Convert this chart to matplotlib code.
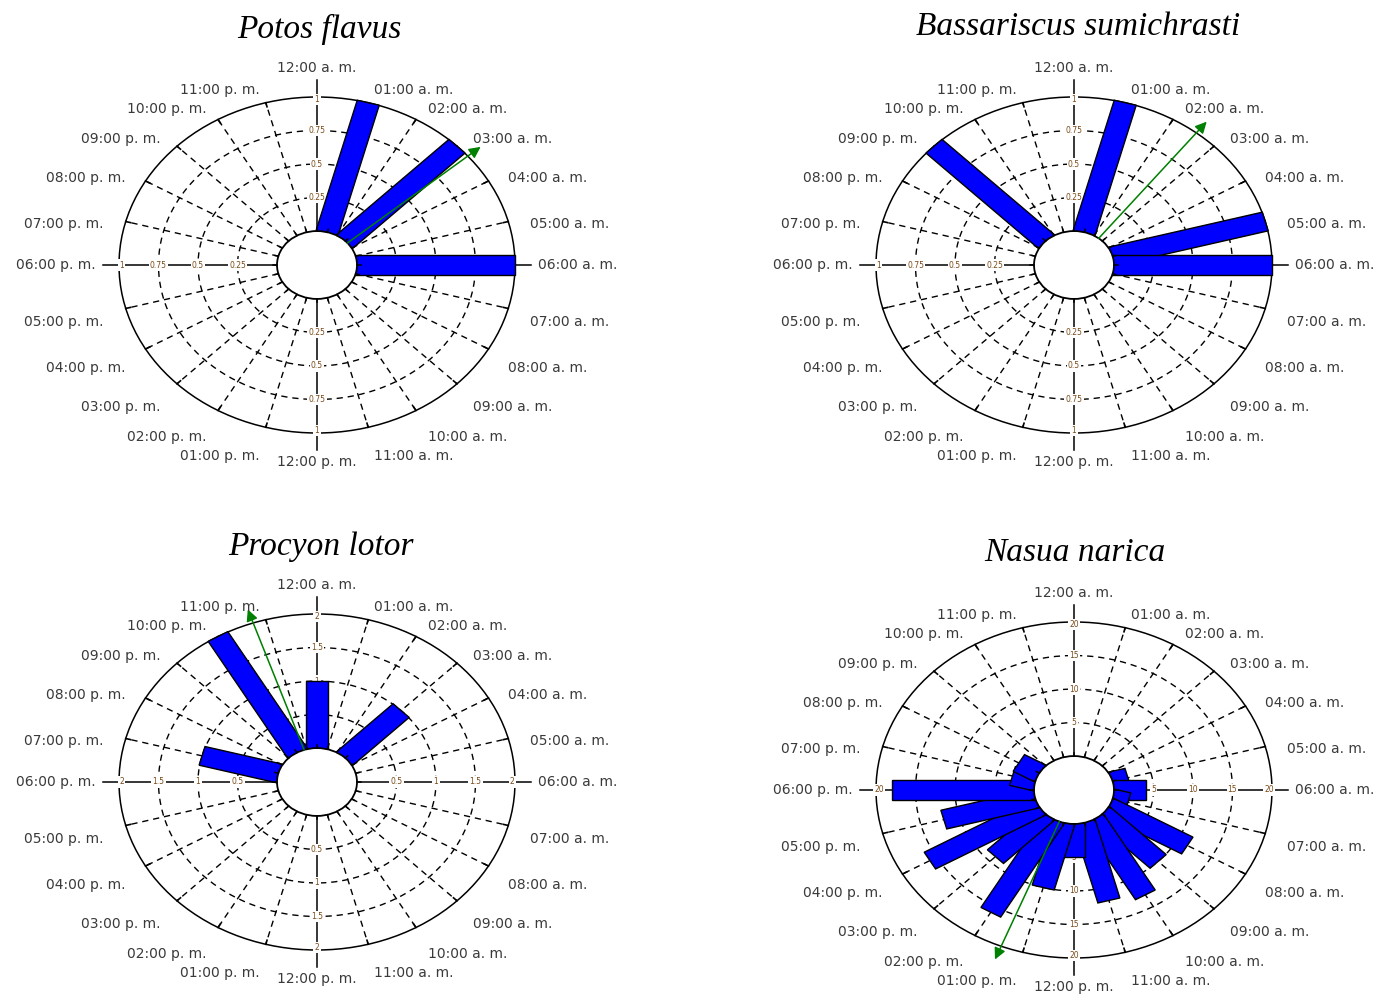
import numpy as np
import matplotlib
matplotlib.use("Agg")
import matplotlib.pyplot as plt
from matplotlib.patches import Polygon, Ellipse

# ---------------------------------------------------------------- data
species = ["Potos flavus", "Bassariscus sumichrasti", "Procyon lotor", "Nasua narica"]

hour_labels = [
    "12:00 a. m.", "01:00 a. m.", "02:00 a. m.", "03:00 a. m.", "04:00 a. m.", "05:00 a. m.",
    "06:00 a. m.", "07:00 a. m.", "08:00 a. m.", "09:00 a. m.", "10:00 a. m.", "11:00 a. m.",
    "12:00 p. m.", "01:00 p. m.", "02:00 p. m.", "03:00 p. m.", "04:00 p. m.", "05:00 p. m.",
    "06:00 p. m.", "07:00 p. m.", "08:00 p. m.", "09:00 p. m.", "10:00 p. m.", "11:00 p. m.",
]

# records per hour of the day (00 h ... 23 h)
potos_counts = [0, 1, 0, 1, 0, 0, 1, 0, 0, 0, 0, 0,
                0, 0, 0, 0, 0, 0, 0, 0, 0, 0, 0, 0]
bassariscus_counts = [0, 1, 0, 0, 0, 1, 1, 0, 0, 0, 0, 0,
                      0, 0, 0, 0, 0, 0, 0, 0, 0, 1, 0, 0]
procyon_counts = [1, 0, 0, 1, 0, 0, 0, 0, 0, 0, 0, 0,
                  0, 0, 0, 0, 0, 0, 0, 1, 0, 0, 2, 0]
nasua_counts = [0, 0, 0, 0, 0, 2, 4, 2, 11.5, 10, 13, 12,
                5, 10, 16, 9, 16, 12, 18, 3, 3, 0, 0, 0]

# radial scale: ring values and their labels
potos_rings = [0.25, 0.5, 0.75, 1]
bassariscus_rings = [0.25, 0.5, 0.75, 1]
procyon_rings = [0.5, 1, 1.5, 2]
nasua_rings = [5, 10, 15, 20]

potos_ring_labels = ["0.25", "0.5", "0.75", "1"]
bassariscus_ring_labels = ["0.25", "0.5", "0.75", "1"]
procyon_ring_labels = ["0.5", "1", "1.5", "2"]
nasua_ring_labels = ["5", "10", "15", "20"]

panels = [
    (species[0], potos_counts, potos_rings, potos_ring_labels),
    (species[1], bassariscus_counts, bassariscus_rings, bassariscus_ring_labels),
    (species[2], procyon_counts, procyon_rings, procyon_ring_labels),
    (species[3], nasua_counts, nasua_rings, nasua_ring_labels),
]

# ---------------------------------------------------------------- layout
FIG_W, FIG_H = 1383, 998
RX, RY = 198.0, 168.0          # outer ellipse half axes (px)
HOLE = 40.0 / RX               # empty centre, as fraction of outer radius
BAR_W = 0.115                  # bar width (fraction of outer radius)
HW, HH = 300, 262              # half size of each panel box (px)

centers = [(317, 265), (1074, 265), (317, 782), (1074, 790)]
title_pos = [(319, 29), (1078, 27), (321, 547), (1075, 553)]

LBL_COLOR = "#3a3a3a"
RING_COLOR = "#7a4a18"
BAR_COLOR = "#0000ff"
ARROW_COLOR = "#008000"
DASH = (0, (4.5, 3.5))

fig = plt.figure(figsize=(FIG_W / 100, FIG_H / 100), dpi=100)
fig.patch.set_facecolor("white")


def polar_xy(theta_deg, r):
    t = np.deg2rad(theta_deg)
    return r * np.sin(t), r * np.cos(t)


def draw_panel(cx, cy, tpos, name, counts, rings, ring_labels):
    ax = fig.add_axes([(cx - HW) / FIG_W, 1 - (cy + HH) / FIG_H,
                       2 * HW / FIG_W, 2 * HH / FIG_H])
    ax.set_xlim(-HW / RX, HW / RX)
    ax.set_ylim(-HH / RY, HH / RY)
    ax.axis("off")
    ax.patch.set_visible(False)

    vmax = rings[-1]

    def rad(v):
        return HOLE + (1 - HOLE) * v / vmax

    # dashed rings
    phi = np.linspace(0, 2 * np.pi, 400)
    for v in rings[:-1]:
        r = rad(v)
        ax.plot(r * np.cos(phi), r * np.sin(phi), color="black", lw=1.0,
                ls=DASH, zorder=1)

    # dashed hour spokes
    for h in range(24):
        th = h * 15
        if th % 90 == 0:
            continue
        x0, y0 = polar_xy(th, HOLE)
        x1, y1 = polar_xy(th, 1.0)
        ax.plot([x0, x1], [y0, y1], color="black", lw=1.0, ls=DASH, zorder=1)
        # small tick on the outer ellipse
        x2, y2 = polar_xy(th, 0.975)
        ax.plot([x2, x1], [y2, y1], color="black", lw=1.2, zorder=2)

    # outer ellipse
    ax.add_patch(Ellipse((0, 0), 2, 2, fill=False, ec="black", lw=1.1, zorder=2))

    # main axes (solid cross)
    ax.plot([-1.08, 1.08], [0, 0], color="black", lw=1.1, zorder=1.5)
    ax.plot([0, 0], [-1.1, 1.1], color="black", lw=1.1, zorder=1.5)

    # ring labels on the four axes
    for v, lab in zip(rings, ring_labels):
        r = rad(v) if v != vmax else 0.985
        for th in (0, 90, 180, 270):
            x, y = polar_xy(th, r)
            ax.text(x, y, lab, fontsize=5.5, color=RING_COLOR, ha="center",
                    va="center", zorder=3,
                    bbox=dict(boxstyle="square,pad=0.15", fc="white", ec="none"))

    # bars (rectangles along each hour direction)
    for h, v in enumerate(counts):
        if v <= 0:
            continue
        th = np.deg2rad(h * 15)
        u = np.array([np.sin(th), np.cos(th)])
        p = np.array([np.cos(th), -np.sin(th)])
        top = rad(v)
        pts = [-BAR_W / 2 * p, BAR_W / 2 * p,
               top * u + BAR_W / 2 * p, top * u - BAR_W / 2 * p]
        ax.add_patch(Polygon(pts, closed=True, fc=BAR_COLOR, ec="black",
                             lw=1.0, zorder=4))

    # empty centre with hour ticks
    ax.add_patch(Ellipse((0, 0), 2 * HOLE, 2 * HOLE, fc="white", ec="black",
                         lw=1.3, zorder=5))
    for h in range(24):
        x0, y0 = polar_xy(h * 15, HOLE)
        x1, y1 = polar_xy(h * 15, HOLE + 0.018)
        ax.plot([x0, x1], [y0, y1], color="black", lw=1.1, zorder=5)

    # mean direction (circular mean of the hourly counts)
    ang = np.deg2rad(np.arange(24) * 15)
    c = np.asarray(counts, dtype=float)
    mean_th = np.rad2deg(np.arctan2((c * np.sin(ang)).sum(), (c * np.cos(ang)).sum()))
    xs, ys = polar_xy(mean_th, HOLE)
    xt, yt = polar_xy(mean_th, 1.085)
    ax.annotate("", xy=(xt, yt), xytext=(xs, ys), zorder=6,
                arrowprops=dict(arrowstyle="-|>", color=ARROW_COLOR, lw=1.1,
                                mutation_scale=17, shrinkA=0, shrinkB=0))

    # hour labels around the dial
    for h, lab in enumerate(hour_labels):
        th = h * 15
        s, co = np.sin(np.deg2rad(th)), np.cos(np.deg2rad(th))
        xp = 221 * s
        if th == 0:
            yd = -197
        elif th == 180:
            yd = 197
        elif th in (90, 270):
            yd = 0
        else:
            yd = -189.5 * co + 8
        ha = "center" if abs(s) < 1e-6 else ("left" if s > 0 else "right")
        ax.text(xp / RX, -yd / RY, lab, fontsize=10, color=LBL_COLOR,
                ha=ha, va="center", zorder=7, clip_on=False)

    # species name
    ax.text((tpos[0] - cx) / RX, (cy - tpos[1]) / RY, name,
            fontsize=24, family="Liberation Serif", style="italic",
            color="black", ha="center", va="center", clip_on=False)


for (cx, cy), tpos, (name, counts, rings, rlabs) in zip(centers, title_pos, panels):
    draw_panel(cx, cy, tpos, name, counts, rings, rlabs)

fig.savefig("out.png", dpi=100, facecolor="white")
